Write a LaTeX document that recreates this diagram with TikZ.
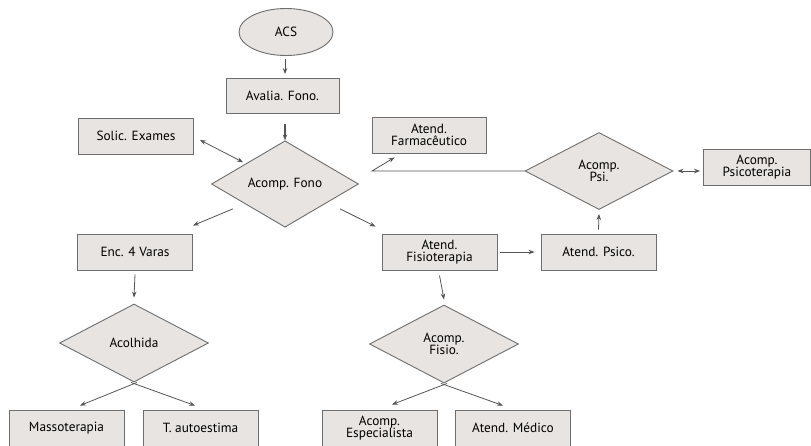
\documentclass[tikz,border=0pt]{standalone}
\usepackage{fontspec}
\setmainfont{PT Sans}
\usetikzlibrary{shapes.geometric,arrows.meta}
\definecolor{boxfill}{HTML}{E8E4E1}
\definecolor{boxline}{HTML}{6E6E6E}
\definecolor{arrowline}{HTML}{555555}
\begin{document}
\begin{tikzpicture}[x=1pt, y=-1pt, >={Stealth[length=6pt,width=4.5pt]}]

    \tikzset{%
    every step/.style={
        draw=boxline,
        fill=boxfill,
        line width=0.9pt,
        inner sep=0pt,
        align=center,
        font=\fontsize{13.3}{12.5}\selectfont
        },
    stepbox/.style={
        every step,
        rectangle,
        minimum width=115,
        minimum height=36
        },
    decision/.style={
        every step,
        diamond,
        minimum width=148,
        minimum height=77
        },
    start/.style={
        every step,
        ellipse,
        minimum width=94,
        minimum height=47
        },
    link/.style={
        draw=arrowline,
        line width=0.8pt
        },
    }

    \useasboundingbox (0,0) rectangle (811,445);

    % Top of the flow
    \node [start] (acs) at (286,32) {ACS};
    \node [stepbox, minimum width=113, minimum height=35] (avalia) at (282.5,96) {Avalia. Fono.};
    \node [decision, minimum width=147, minimum height=74] (acompfono) at (285,184) {Acomp. Fono};
    \node [stepbox] (solic) at (136,136) {Solic. Exames};
    \node [stepbox, minimum width=114] (farm) at (429,135) {Atend.\\Farmacêutico};

    % Psychology branch
    \node [decision] (psi) at (599,171) {Acomp.\\Psi.};
    \node [stepbox, minimum width=107] (psicot) at (757,167) {Acomp.\\Psicoterapia};
    \node [stepbox] (psico) at (598.5,252) {Atend. Psico.};

    % Second level
    \node [stepbox] (enc) at (135,252) {Enc. 4 Varas};
    \node [stepbox] (fisio) at (439.5,252) {Atend.\\Fisioterapia};
    \node [decision, minimum width=149, minimum height=78] (acolhida) at (134,343) {Acolhida};
    \node [decision, minimum width=149, minimum height=78] (acfisio) at (444,344) {Acomp.\\Fisio.};

    % Bottom row
    \foreach \n/\x/\t in {masso/66.5/Massoterapia, autoest/200.5/T. autoestima, espec/379.5/{Acomp.\\Especialista}, medico/513/Atend. Médico}
    \node [stepbox] (\n) at (\x,428) {\t};

    \coordinate (bend) at (372,171);

    % Connectors
    \draw [link,->] ([yshift=-3pt]acompfono.north |- acs.south) -- ([yshift=4pt]acompfono.north |- avalia.north);
    \draw [link,->,line width=1.3pt] ([yshift=-10pt]acompfono.north |- avalia.south) -- (acompfono.north);
    \draw [link,<->] ([xshift=6pt,yshift=-4pt]solic.east) -- ([xshift=-5pt]acompfono.north west);
    \draw [link,->] ([xshift=-15pt,yshift=-3pt]acompfono.south west) -- ([yshift=8pt]enc.north east);
    \draw [link,->] ([xshift=18pt,yshift=-3pt]acompfono.south east) -- ([xshift=-6pt,yshift=7pt]fisio.north west);
    \draw [link,->] (psi.west) -- (bend) -- ([xshift=23pt,yshift=-4pt]farm.south west);
    \draw [link,<->] ([xshift=4pt]psi.east) -- ([xshift=-3pt]psi.east -| psicot.west);
    \draw [link,->] ([xshift=3pt]fisio.east) -- ([xshift=-6pt]psico.west);
    \draw [link,->] ([yshift=4pt]psico.north) -- ([yshift=-4pt]psi.south);
    \draw [link,->] ([yshift=-4pt]enc.south) -- ([yshift=6pt]acolhida.north);
    \draw [link,->] ([yshift=-5pt]fisio.south) -- ([yshift=5pt]acfisio.north);

    \draw [link,->] ([xshift=3pt]acolhida.south) -- ([xshift=13.5pt,yshift=4pt]masso.north);
    \draw [link,->] ([xshift=-3pt]acolhida.south) -- ([xshift=-5.5pt,yshift=4pt]autoest.north);
    \draw [link,->] ([xshift=3pt]acfisio.south) -- ([xshift=12.5pt,yshift=5pt]espec.north);
    \draw [link,->] ([xshift=-3pt]acfisio.south) -- ([xshift=-10pt,yshift=4pt]medico.north);

\end{tikzpicture}
\end{document}
